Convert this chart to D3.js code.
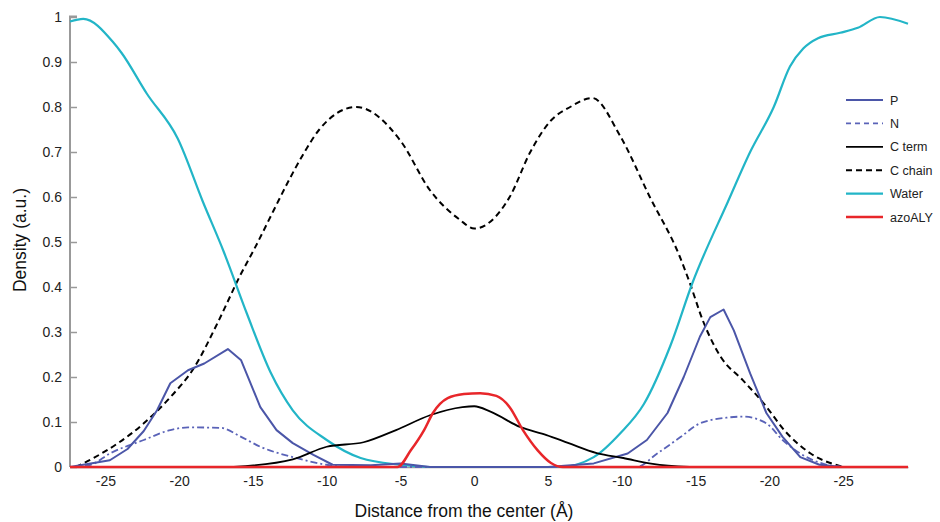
<!DOCTYPE html>
<html><head><meta charset="utf-8">
<script src="https://cdn.jsdelivr.net/npm/d3@7"></script>
<style>body{margin:0;background:#fff}svg{display:block}text{font-family:"Liberation Sans",Arial,sans-serif}</style>
</head><body><svg id="c" width="940" height="522"></svg>
<script>
const seriesNames = ["P","N","C term","C chain","Water","azoALY"];
const xTicks = [-25,-20,-15,-10,-5,0,5,10,15,20,25];
const xTickLabels = ["-25","-20","-15","-10","-5","0","5","-10","-15","-20","-25"];
const yTicks = [0,0.1,0.2,0.3,0.4,0.5,0.6,0.7,0.8,0.9,1];

const pX = [-27.4,-24.7,-23.5,-22.4,-21.5,-20.6,-19.4,-18.3,-16.7,-15.8,-14.5,-13.4,-12.3,-10.9,-9.6,-7,-5,-3,5,8.1,10.4,11.7,13.1,14.2,15.3,16.0,16.9,17.6,18.7,19.8,20.9,22.1,23.4,25];
const pY = [0,0.015,0.04,0.08,0.126,0.186,0.215,0.23,0.262,0.237,0.133,0.082,0.053,0.027,0.005,0.004,0.008,0,0,0.008,0.03,0.06,0.12,0.2,0.29,0.333,0.35,0.303,0.208,0.12,0.067,0.022,0.005,0];

const nX = [-27.4,-26.0,-24.7,-22.4,-20.6,-19.4,-17.2,-15.8,-14.5,-12.3,-10.0,-8.0,11.0,12.4,14.0,15.3,17.2,18.2,19.8,20.9,22.1,23.9,25];
const nY = [0,0.005,0.03,0.06,0.082,0.088,0.087,0.067,0.045,0.022,0.005,0,0,0.03,0.067,0.097,0.11,0.112,0.097,0.06,0.03,0.005,0];

const ctX = [-16.3,-12.3,-10.0,-7.5,-5.3,-3.0,-0.8,0.0,1.1,3.1,4.9,6.4,8.3,10.1,12.1,14.6];
const ctY = [0,0.017,0.045,0.055,0.082,0.115,0.133,0.135,0.123,0.089,0.071,0.053,0.031,0.02,0.007,0];

const ccX = [-27.0,-25.8,-22.4,-20.6,-19.0,-17.4,-15.8,-14.9,-13.6,-12.6,-11.5,-10.5,-8.0,-5.0,-3.0,-1.0,0.0,2.4,3.8,5.2,6.5,8.0,9.9,11.9,13.9,14.6,15.5,16.7,18.2,19.6,21.2,22.8,25.0];
const ccY = [0,0.02,0.097,0.155,0.22,0.32,0.43,0.485,0.57,0.635,0.70,0.75,0.80,0.725,0.615,0.55,0.53,0.60,0.70,0.77,0.80,0.82,0.735,0.60,0.47,0.41,0.325,0.245,0.193,0.142,0.075,0.03,0];

const wX = [-27.4,-26.5,-24.5,-23.9,-22.2,-20.1,-18.4,-17.0,-15.4,-13.8,-12.3,-10.0,-7.7,-5.0,-3.0,5.8,8.1,9.9,11.5,13.3,14.8,17.2,18.7,20.3,21.4,22.3,23.3,24.8,26.0,27.5,29.4];
const wY = [0.99,0.996,0.945,0.92,0.83,0.73,0.59,0.48,0.34,0.21,0.126,0.06,0.02,0.005,0,0,0.022,0.075,0.14,0.27,0.41,0.59,0.70,0.80,0.89,0.93,0.953,0.965,0.976,1.0,0.985];

const aX = [-27.4,-5.2,-4.3,-3.4,-2.8,-1.8,-0.7,0.4,1.5,2.4,3.3,4.3,5.2,6.0,29.4];
const aY = [0,0,0.037,0.082,0.12,0.153,0.162,0.164,0.158,0.133,0.082,0.037,0.009,0,0];

const colors = ["#4b56a8","#5a63b8","#000000","#000000","#22b5c7","#e8262a"];
const plotDash = [null,"7,3,2,3",null,"6,4",null,null];
const legendDash = [null,"5,4",null,"6,4",null,null];
const widths = [2,1.8,1.8,2,2.2,2.5];
const data = [[pX,pY],[nX,nY],[ctX,ctY],[ccX,ccY],[wX,wY],[aX,aY]];

const svg = d3.select("#c");
const x = d3.scaleLinear().domain([-27.4,29.4]).range([70,908]);
const y = d3.scaleLinear().domain([0,1]).range([467,17]);

// y axis
const ya = svg.append("g").attr("transform","translate(70,0)")
  .call(d3.axisRight(y).tickValues(yTicks).tickSize(7).tickFormat(d3.format("~g")));
ya.select(".domain").attr("stroke","#999").attr("stroke-width",2).attr("d","M7,16.5H0V467");
ya.selectAll(".tick line").attr("stroke","#999").attr("stroke-width",1.5);
ya.selectAll(".tick text").attr("x",-8).attr("text-anchor","end").attr("font-size",14).attr("fill","#222");

// x axis
const xa = svg.append("g").attr("transform","translate(0,467)")
  .call(d3.axisBottom(x).tickValues(xTicks).tickSize(0).tickFormat((d,i)=>xTickLabels[i]));
xa.select(".domain").attr("stroke","#999").attr("stroke-width",1.5);
xa.selectAll(".tick text").attr("dy","1.15em").attr("font-size",14).attr("fill","#222");

// lines
const order = [3,4,1,0,2,5];
order.forEach(i=>{
  const [xs,ys] = data[i];
  const pts = xs.map((v,k)=>[v,ys[k]]);
  const line = d3.line().x(d=>x(d[0])).y(d=>y(d[1])).curve(i===0?d3.curveLinear:d3.curveMonotoneX);
  svg.append("path").attr("d",line(pts)).attr("fill","none")
    .attr("stroke",colors[i]).attr("stroke-width",widths[i])
    .attr("stroke-dasharray",plotDash[i]).attr("stroke-linejoin","round");
});

// legend
const lg = svg.append("g");
seriesNames.forEach((n,i)=>{
  const yy = 100 + i*23.4;
  lg.append("line").attr("x1",846).attr("x2",883).attr("y1",yy).attr("y2",yy)
    .attr("stroke",colors[i]).attr("stroke-width",widths[i]).attr("stroke-dasharray",legendDash[i]);
  lg.append("text").attr("x",890).attr("y",yy+4.5).attr("font-size",12.5).attr("fill","#222").text(n);
});

// axis titles
svg.append("text").attr("x",464).attr("y",517).attr("text-anchor","middle").attr("font-size",17.5).attr("fill","#111")
  .text("Distance from the center (Å)");
svg.append("text").attr("transform","translate(26,240) rotate(-90)").attr("text-anchor","middle").attr("font-size",17.5).attr("fill","#111")
  .text("Density (a.u.)");
</script></body></html>
